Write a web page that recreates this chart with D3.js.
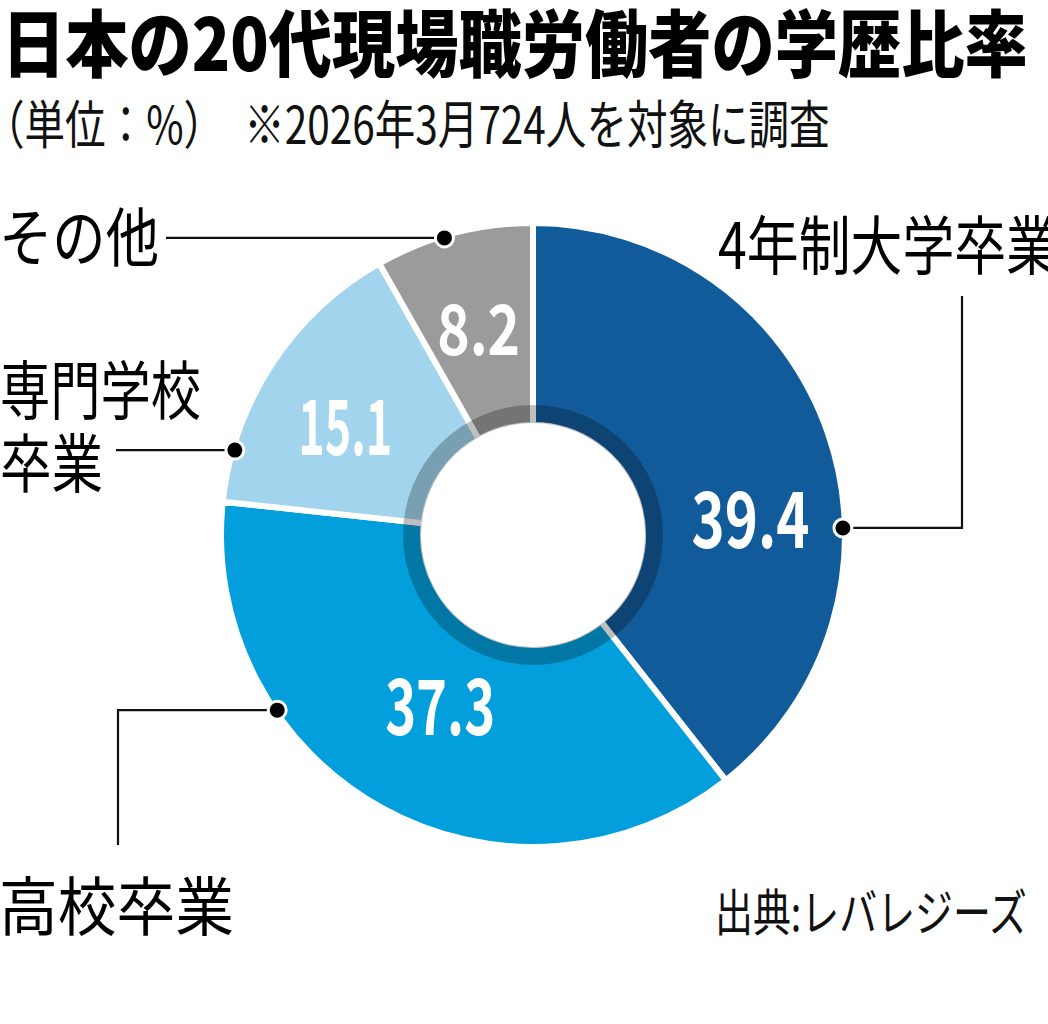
<!DOCTYPE html>
<html>
<head>
<meta charset="utf-8">
<script src="https://cdn.jsdelivr.net/npm/d3@7"></script>
<style>
  body { margin: 0; background: #fff; }
  svg { display: block; }
  text { font-family: "Noto Sans CJK JP", "Noto Sans", sans-serif; }
  text.val { font-variant-numeric: proportional-nums; }
</style>
</head>
<body>
<svg width="1048" height="1024"></svg>
<script>
// data
var categories = ["4年制大学卒業", "高校卒業", "専門学校卒業", "その他"];
var values = [39.4, 37.3, 15.1, 8.2];
var labelLines = [["4年制大学卒業"], ["高校卒業"], ["専門学校", "卒業"], ["その他"]];
var colors = ["#125b9b", "#029fdc", "#a2d4ee", "#9b9b9b"];

var title = "日本の20代現場職労働者の学歴比率";
var subtitle = "（単位：%）　※2026年3月724人を対象に調査";
var source = "出典:レバレジーズ";

var svg = d3.select("svg");
var cx = 533, cy = 535, outerR = 312, holeR = 112, ringR = 130;

// fit a text element to a given width by horizontal scaling
function fitText(t, x, y, w) {
  var len = t.node().getComputedTextLength();
  t.attr("transform", "translate(" + x + "," + y + ") scale(" + (w / len) + ",1)");
}

var tt = svg.append("text")
  .attr("font-size", 73).attr("font-weight", 900).attr("fill", "#000")
  .text(title);
fitText(tt, 2, 71, 1026);

var st = svg.append("text")
  .attr("font-size", 52).attr("font-weight", 400).attr("fill", "#111")
  .text(subtitle);
fitText(st, -16, 144, 846);

var src = svg.append("text")
  .attr("font-size", 50).attr("font-weight", 400).attr("fill", "#111")
  .text(source);
fitText(src, 715, 931, 312);

// donut
var pie = d3.pie().sort(null).value(function(d) { return d; });
var arcs = pie(values);
var arc = d3.arc().innerRadius(holeR - 2).outerRadius(outerR);

var g = svg.append("g").attr("transform", "translate(" + cx + "," + cy + ")");

g.selectAll("path.slice")
  .data(arcs)
  .enter().append("path")
    .attr("class", "slice")
    .attr("d", arc)
    .attr("fill", function(d, i) { return colors[i]; })
    .attr("stroke", "#fff")
    .attr("stroke-width", 6)
    .attr("stroke-linejoin", "miter");

// darker ring around the hole
g.append("path")
  .attr("d", d3.arc().innerRadius(holeR - 2).outerRadius(ringR)({ startAngle: 0, endAngle: 2 * Math.PI }))
  .attr("fill", "#000")
  .attr("fill-opacity", 0.25);

g.append("circle").attr("r", holeR).attr("fill", "#fff");

// value labels: angle nudge (deg), radius, font size, target width
var valueLayout = [
  { da: 15.2, r: 218, fs: 77, w: 118 },
  { da: -0.7, r: 196, fs: 77, w: 110 },
  { da: -3.65, r: 216, fs: 77, w: 94 },
  { da: -0.1, r: 212, fs: 70, w: 83 }
];

g.selectAll("text.val")
  .data(arcs)
  .enter().append("text")
    .attr("class", "val")
    .attr("font-family", "Roboto, 'Noto Sans', sans-serif")
    .attr("font-weight", 700)
    .attr("font-size", function(d, i) { return valueLayout[i].fs; })
    .attr("fill", "#fff")
    .text(function(d) { return d3.format(".1f")(d.data); })
    .each(function(d, i) {
      var L = valueLayout[i];
      var a = (d.startAngle + d.endAngle) / 2 + L.da * Math.PI / 180;
      var x = Math.sin(a) * L.r, y = -Math.cos(a) * L.r;
      var len = this.getComputedTextLength();
      var k = L.w / len;
      d3.select(this).attr("transform",
        "translate(" + (x - L.w / 2) + "," + (y + L.fs * 0.355) + ") scale(" + k + ",1)");
    });

// leaders: dot angle on rim, and path to label
var dotAngles = [88.7, 235.6, 285.9, 343.4];
var dots = dotAngles.map(function(deg) {
  var a = deg * Math.PI / 180;
  return [cx + Math.sin(a) * (outerR - 2), cy - Math.cos(a) * (outerR - 2)];
});

var leaders = [
  [dots[0], [962, dots[0][1]], [962, 296]],
  [dots[1], [118, dots[1][1]], [118, 845]],
  [dots[2], [116, dots[2][1]]],
  [dots[3], [166, dots[3][1]]]
];

svg.selectAll("path.leader")
  .data(leaders)
  .enter().append("path")
    .attr("class", "leader")
    .attr("d", d3.line())
    .attr("fill", "none")
    .attr("stroke", "#111")
    .attr("stroke-width", 2.2);

svg.selectAll("circle.dot")
  .data(dots)
  .enter().append("circle")
    .attr("class", "dot")
    .attr("cx", function(d) { return d[0]; })
    .attr("cy", function(d) { return d[1]; })
    .attr("r", 9)
    .attr("fill", "#000")
    .attr("stroke", "#fff")
    .attr("stroke-width", 3);

// category labels: x, baselines, widths per line
var labelLayout = [
  { x: 718, y: [269], w: [340] },
  { x: -1, y: [930], w: [235] },
  { x: 0, y: [414, 487], w: [201, 103] },
  { x: -1, y: [261], w: [160] }
];
labelLines.forEach(function(lines, i) {
  var L = labelLayout[i];
  lines.forEach(function(s, j) {
    var t = svg.append("text")
      .attr("font-size", 64)
      .attr("font-weight", 400)
      .attr("fill", "#000")
      .text(s);
    fitText(t, L.x, L.y[j], L.w[j]);
  });
});
</script>
</body>
</html>
